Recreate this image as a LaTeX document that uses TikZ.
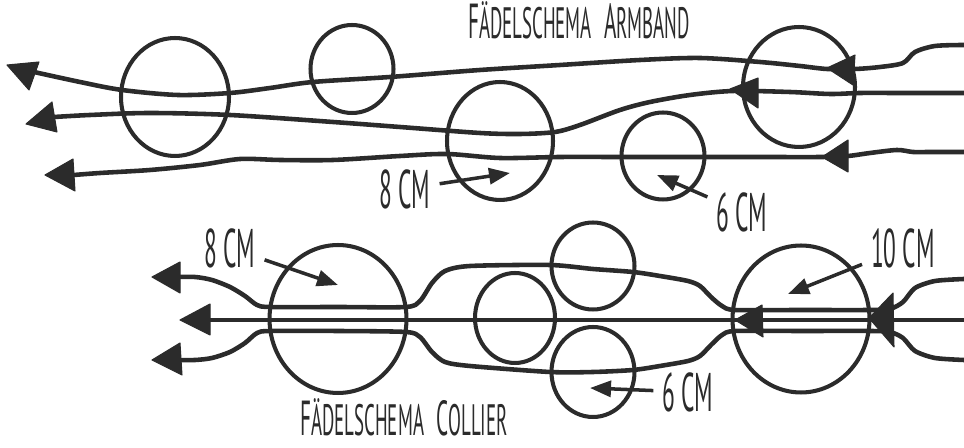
\documentclass[tikz,border=0pt]{standalone}
\usepackage{fontspec}
\newfontfamily\hand[FakeStretch=0.43]{PT Sans}
\usetikzlibrary{arrows.meta,shapes.geometric}
\definecolor{ink}{HTML}{2B2B2B}
\newcommand\capsz[2]{{\fontsize{28}{28}\selectfont #1}{\fontsize{25}{25}\selectfont #2}}
\tikzset{
  bead/.style={draw=ink, line width=2.3pt, ellipse, inner sep=0pt},
  strand/.style={draw=ink, line width=2.6pt, line cap=round, line join=round},
  headfill/.style={fill=ink, draw=ink, line width=0.6pt, line join=round},
  lbl/.style={text=ink, font=\hand\fontsize{31}{31}\selectfont, inner sep=5pt},
  ttl/.style={text=ink, font=\hand, inner sep=0pt, anchor=base},
  lblarrow/.style={draw=ink, line width=2pt, -{Triangle[length=0.42cm,width=0.32cm]}},
}
\begin{document}
\begin{tikzpicture}[x=0.02cm, y=-0.02cm]
\useasboundingbox (0,0) rectangle (964,448);

% ---------------- top: Armband ----------------
\node[bead, minimum width=2.16cm, minimum height=2.36cm] (c1) at (175,97) {};
\node[bead, minimum width=1.66cm, minimum height=1.76cm] (c2) at (352,69) {};
\node[bead, minimum width=2.12cm, minimum height=2.36cm] (c3) at (500,141) {};
\node[bead, minimum width=1.66cm, minimum height=1.74cm] (c4) at (663,156) {};
\node[bead, minimum width=2.24cm, minimum height=2.40cm] (c5) at (799,87) {};

\coordinate (aR) at (964,45);  \coordinate (aL) at (34,72);
\coordinate (bR) at (964,93);  \coordinate (bL) at (54,117);
\coordinate (cR) at (964,152); \coordinate (cL) at (74,175);

\draw[strand] plot[smooth, tension=0.5] coordinates {(aR) (935,46) (915,52) (903,63) (880,67) (855,69) (827,69) (800,66) (760,62) (700,58) (640,60) (560,65) (480,70) (390,77) (313,82) (270,88) (230,93) (178,95) (122,90) (80,82) (aL)};
\draw[strand] plot[smooth, tension=0.5] coordinates {(bR) (900,93) (860,93) (830,94) (790,92) (733,91) (690,95) (650,102) (620,110) (580,125) (555,132) (520,134) (480,133) (400,127) (333,122) (230,115) (150,113) (90,115) (bL)};
\draw[strand] plot[smooth, tension=0.5] coordinates {(cR) (930,152) (913,152) (897,150) (870,153) (848,156) (822,157) (760,157) (700,157) (620,157) (560,157) (500,158) (447,154) (400,156) (333,160) (280,160) (240,159) (200,165) (150,170) (100,173) (cL)};

% end arrow heads
\fill[headfill] (7,65) -- (39,62) -- (29,90) -- cycle;
\fill[headfill] (26,124) -- (52,102) -- (57,132) -- cycle;
\fill[headfill] (45,175) -- (73,159) -- (75,191) -- cycle;
% mid arrow heads
\fill[headfill] (827,68) -- (855,55) -- (853,85) -- cycle;
\fill[headfill] (730,89) -- (758,78) -- (758,108) -- cycle;
\fill[headfill] (822,157) -- (848,140) -- (848,172) -- cycle;

\node[ttl] (t1) at (579,39) {\capsz{F}{ÄDELSCHEMA}\hspace{7pt}\capsz{A}{RMBAND}};

\node[lbl] (l8a) at (405,189) {8 CM};
\coordinate (p8a) at (510,173);
\draw[lblarrow] (l8a) -- (p8a);
\node[lbl] (l6a) at (742,212) {6 CM};
\coordinate (p6a) at (657,175);
\draw[lblarrow] (l6a) -- (p6a);

% ---------------- bottom: Collier ----------------
\node[bead, minimum width=2.74cm, minimum height=2.96cm] (d1) at (338,319) {};
\node[bead, minimum width=1.60cm, minimum height=1.80cm] (d2) at (515,318) {};
\node[bead, minimum width=1.66cm, minimum height=1.74cm] (d3) at (593,266) {};
\node[bead, minimum width=1.66cm, minimum height=1.80cm] (d4) at (593,372) {};
\node[bead, minimum width=2.74cm, minimum height=2.94cm] (d5) at (801,319) {};

\coordinate (uR) at (964,279); \coordinate (uL) at (172,277);
\coordinate (mR) at (964,320); \coordinate (mL) at (200,320);
\coordinate (wR) at (964,360); \coordinate (wL) at (172,360);

\draw[strand] (mR) -- (mL);
\draw[strand] plot[smooth, tension=0.45] coordinates {(uR) (935,281) (915,288) (903,302) (890,309) (870,310) (800,310) (735,310) (722,306) (711,297) (700,286) (688,281) (660,276) (633,272) (593,269) (550,265) (470,266) (445,271) (432,283) (420,301) (406,307) (338,307) (270,307) (257,305) (245,296) (230,287) (212,280) (195,277) (uL)};
\draw[strand] plot[smooth, tension=0.45] coordinates {(wR) (935,358) (915,351) (903,338) (890,332) (870,331) (800,331) (735,331) (722,335) (711,345) (700,356) (688,361) (660,366) (633,370) (593,372) (550,372) (470,366) (445,362) (432,352) (420,337) (406,332) (338,331) (270,331) (257,333) (245,343) (230,352) (212,358) (195,360) (wL)};

% end arrow heads
\fill[headfill] (152,277) -- (180,262) -- (180,293) -- cycle;
\fill[headfill] (180,320) -- (210,304) -- (210,335) -- cycle;
\fill[headfill] (152,360) -- (180,343) -- (182,375) -- cycle;
% mid arrow heads
\fill[headfill] (735,320) -- (762,305) -- (763,337) -- cycle;
\fill[headfill] (869,318) -- (893,293) -- (894,347) -- cycle;

\node[ttl] (t2) at (404,436) {\capsz{F}{ÄDELSCHEMA}\hspace{7pt}\capsz{C}{OLLIER}};

\node[lbl] (l8b) at (230,248) {8 CM};
\coordinate (p8b) at (338,285);
\draw[lblarrow] (l8b) -- (p8b);
\node[lbl] (l10) at (903,248) {10 CM};
\coordinate (p10) at (788,294);
\draw[lblarrow] (l10) -- (p10);
\node[lbl] (l6b) at (688,392) {6 CM};
\coordinate (p6b) at (590,388);
\draw[lblarrow] (l6b) -- (p6b);
\end{tikzpicture}
\end{document}
